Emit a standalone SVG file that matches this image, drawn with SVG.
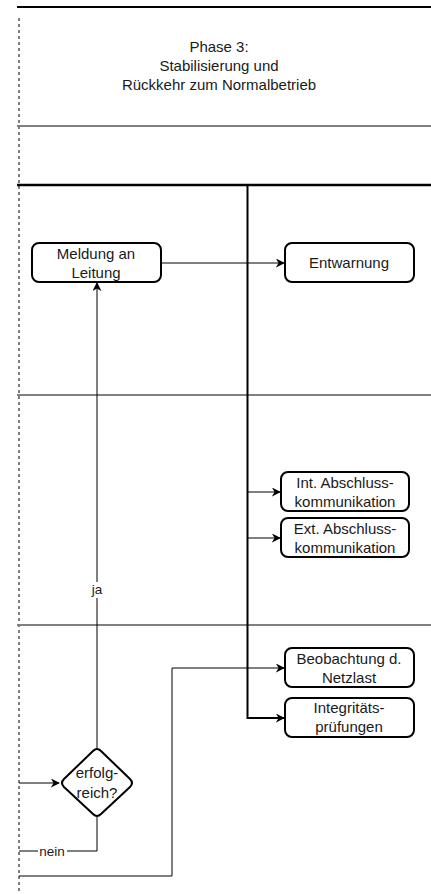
<svg xmlns="http://www.w3.org/2000/svg" width="431" height="894" viewBox="0 0 431 894">
  <style>
    .lane { stroke: #808080; stroke-width: 2; fill: none; }
    .edge { stroke: #000; stroke-width: 1; fill: none; }
    .node { fill: #fff; stroke: #000; stroke-width: 2; }
    .txt { font-family: "Liberation Sans", Arial, sans-serif; font-size: 15px; fill: #1a1a1a; text-anchor: middle; }
    .lbl { font-family: "Liberation Sans", Arial, sans-serif; font-size: 13.5px; fill: #1a1a1a; text-anchor: middle; }
  </style>
  <defs>
    <marker id="arrow" viewBox="0 0 10 10" refX="9" refY="5" markerWidth="9" markerHeight="9" markerUnits="userSpaceOnUse" orient="auto">
      <path d="M0,0 L10,5 L0,10 L3,5 Z" fill="#000"/>
    </marker>
  </defs>

  <rect width="431" height="894" fill="#fff"/>

  <!-- pool frame and lanes -->
  <g id="lanes">
    <line x1="17" y1="7" x2="431" y2="7" stroke="#000" stroke-width="2"/>
    <line x1="19" y1="18" x2="19" y2="894" stroke="#555" stroke-width="1.5" stroke-dasharray="3 3"/>
    <line class="lane" x1="17" y1="126" x2="431" y2="126"/>
    <line class="lane" x1="17" y1="395" x2="431" y2="395"/>
    <line class="lane" x1="17" y1="625" x2="431" y2="625"/>
    <line x1="17" y1="185" x2="431" y2="185" stroke="#000" stroke-width="2.5"/>
  </g>

  <g id="phase-title">
    <text class="txt" x="219" y="52">Phase 3:</text>
    <text class="txt" x="219" y="71">Stabilisierung und</text>
    <text class="txt" x="219" y="90">Rückkehr zum Normalbetrieb</text>
  </g>

  <!-- connectors -->
  <g id="connectors">
    <path d="M247.5,185 V718 H284" stroke="#000" stroke-width="2" fill="none" marker-end="url(#arrow)"/>
    <path class="edge" d="M247.5,492 H280" marker-end="url(#arrow)"/>
    <path class="edge" d="M247.5,538 H280" marker-end="url(#arrow)"/>
    <path class="edge" d="M161,263 H284" marker-end="url(#arrow)"/>
    <path class="edge" d="M97,748 V283" marker-end="url(#arrow)"/>
    <path class="edge" d="M19,783 H59" marker-end="url(#arrow)"/>
    <path class="edge" d="M97,817 V851 H19"/>
    <path class="edge" d="M19,876 H172 V668 H284" marker-end="url(#arrow)"/>
    <rect x="87" y="582" width="20" height="16" fill="#fff"/>
    <text class="lbl" x="97" y="594">ja</text>
    <rect x="38" y="845" width="29" height="13" fill="#fff"/>
    <text class="lbl" x="52" y="856">nein</text>
  </g>

  <g id="meldung">
    <rect class="node" x="32" y="243" width="129" height="39" rx="7"/>
    <text class="txt" x="96" y="259">Meldung an</text>
    <text class="txt" x="96" y="278">Leitung</text>
  </g>

  <g id="entwarnung">
    <rect class="node" x="285" y="243" width="129" height="39" rx="7"/>
    <text class="txt" x="349" y="268">Entwarnung</text>
  </g>

  <g id="int-abschluss">
    <rect class="node" x="281" y="472" width="128" height="39" rx="7"/>
    <text class="txt" x="345" y="488">Int. Abschluss-</text>
    <text class="txt" x="345" y="507">kommunikation</text>
  </g>

  <g id="ext-abschluss">
    <rect class="node" x="281" y="518" width="128" height="39" rx="7"/>
    <text class="txt" x="345" y="534">Ext. Abschluss-</text>
    <text class="txt" x="345" y="553">kommunikation</text>
  </g>

  <g id="beobachtung">
    <rect class="node" x="285" y="648" width="129" height="39" rx="7"/>
    <text class="txt" x="349" y="664">Beobachtung d.</text>
    <text class="txt" x="349" y="683">Netzlast</text>
  </g>

  <g id="integritaet">
    <rect class="node" x="285" y="698" width="129" height="39" rx="7"/>
    <text class="txt" x="349" y="713">Integritäts-</text>
    <text class="txt" x="349" y="732">prüfungen</text>
  </g>

  <g id="erfolgreich">
    <path class="node" stroke-linejoin="round" d="M93,751 Q97,747 101,751 L130,779 Q134,783 130,787 L101,814 Q97,818 93,814 L64,787 Q60,783 64,779 Z"/>
    <text class="txt" x="97" y="778">erfolg-</text>
    <text class="txt" x="97" y="798">reich?</text>
  </g>
</svg>
